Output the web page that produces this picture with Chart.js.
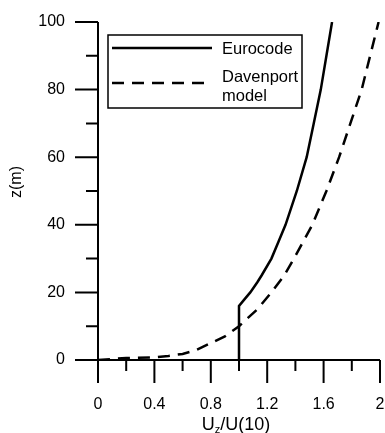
<!DOCTYPE html>
<html>
<head>
<meta charset="utf-8">
<script src="https://cdn.jsdelivr.net/npm/chart.js@4"></script>
<style>
  html, body { margin: 0; padding: 0; background: #fff; }
  #wrap { position: relative; width: 385px; height: 433px; }
</style>
</head>
<body>
<div id="wrap"><canvas id="c" width="385" height="433"></canvas></div>
<script>
// ---- data ----
const eurocodeZ = [0, 16, 18, 20, 23, 25, 30, 35, 40, 50, 60, 70, 80, 90, 100];
const eurocodeU = [1.0, 1.0, 1.04, 1.08, 1.13, 1.16, 1.23, 1.28, 1.33, 1.41, 1.48, 1.53, 1.58, 1.62, 1.66];
const davenportZ = [0, 0.6, 0.8, 1.2, 1.8, 3, 5, 7, 10, 15, 20, 25, 30, 40, 50, 60, 70, 80, 90, 100];
const davenportU = [0, 0.2, 0.4, 0.5, 0.6, 0.7, 0.8, 0.9, 1.0, 1.13, 1.23, 1.32, 1.39, 1.52, 1.62, 1.71, 1.79, 1.87, 1.93, 1.99];
const seriesNames = ['Eurocode', 'Davenport model'];
const xMajorTicks = [0, 0.4, 0.8, 1.2, 1.6, 2];
const xMinorTicks = [0.2, 0.6, 1.0, 1.4, 1.8];
const yMajorTicks = [0, 20, 40, 60, 80, 100];
const yMinorTicks = [10, 30, 50, 70, 90];
const xTitleMain = 'U', xTitleSub = 'z', xTitleRest = '/U(10)';
const yTitle = 'z(m)';

const FONT = "'Liberation Sans', Arial, sans-serif";

const toPts = (xs, ys) => xs.map((x, i) => ({ x: x, y: ys[i] }));

const axesPlugin = {
  id: 'axesDraw',
  afterDraw(chart) {
    const ctx = chart.ctx;
    const xs = chart.scales.x, ys = chart.scales.y;
    const x0 = xs.getPixelForValue(0), y0 = ys.getPixelForValue(0);
    ctx.save();
    ctx.strokeStyle = '#000';
    ctx.lineWidth = 2;
    ctx.lineCap = 'butt';
    // axis lines
    ctx.beginPath();
    ctx.moveTo(x0, ys.getPixelForValue(100));
    ctx.lineTo(x0, y0);
    ctx.moveTo(x0, y0);
    ctx.lineTo(xs.getPixelForValue(2), y0);
    ctx.stroke();
    // y ticks
    ctx.beginPath();
    yMajorTicks.forEach(v => { const p = ys.getPixelForValue(v); ctx.moveTo(x0 - 23, p); ctx.lineTo(x0, p); });
    yMinorTicks.forEach(v => { const p = ys.getPixelForValue(v); ctx.moveTo(x0 - 12, p); ctx.lineTo(x0, p); });
    // x ticks
    xMajorTicks.forEach(v => { const p = xs.getPixelForValue(v); ctx.moveTo(p, y0); ctx.lineTo(p, y0 + 23); });
    xMinorTicks.forEach(v => { const p = xs.getPixelForValue(v); ctx.moveTo(p, y0); ctx.lineTo(p, y0 + 11); });
    ctx.stroke();

    // y title
    ctx.fillStyle = '#000';
    ctx.font = '16px ' + FONT;
    ctx.save();
    ctx.translate(17, 182);
    ctx.rotate(-Math.PI / 2);
    ctx.textAlign = 'center';
    ctx.textBaseline = 'middle';
    ctx.fillText(yTitle, 0, 0);
    ctx.restore();

    // x title with subscript
    const mainFont = '18px ' + FONT, subFont = '11px ' + FONT;
    ctx.font = mainFont;
    const wU = ctx.measureText(xTitleMain).width;
    const wR = ctx.measureText(xTitleRest).width;
    ctx.font = subFont;
    const wS = ctx.measureText(xTitleSub).width;
    const total = wU + wS + wR;
    let tx = 236 - total / 2;
    const base = 430;
    ctx.textAlign = 'left';
    ctx.textBaseline = 'alphabetic';
    ctx.font = mainFont; ctx.fillText(xTitleMain, tx, base); tx += wU;
    ctx.font = subFont; ctx.fillText(xTitleSub, tx, base + 3); tx += wS;
    ctx.font = mainFont; ctx.fillText(xTitleRest, tx, base);

    // legend box
    const lx = 108, ly = 35, lw = 194, lh = 73;
    ctx.fillStyle = '#fff';
    ctx.fillRect(lx, ly, lw, lh);
    ctx.lineWidth = 1.5;
    ctx.strokeStyle = '#000';
    ctx.strokeRect(lx, ly, lw, lh);
    const dsets = chart.data.datasets;
    ctx.lineWidth = 2.5;
    ctx.setLineDash(dsets[0].borderDash || []);
    ctx.beginPath(); ctx.moveTo(112, 48); ctx.lineTo(212, 48); ctx.stroke();
    ctx.setLineDash(dsets[1].borderDash || []);
    ctx.beginPath(); ctx.moveTo(112, 83); ctx.lineTo(212, 83); ctx.stroke();
    ctx.setLineDash([]);
    ctx.fillStyle = '#000';
    ctx.font = '16.5px ' + FONT;
    ctx.textBaseline = 'alphabetic';
    ctx.fillText(dsets[0].label, 222, 54);
    const parts = dsets[1].label.split(' ');
    ctx.fillText(parts[0], 222, 82);
    ctx.fillText(parts[1], 222, 101);
    ctx.restore();
  }
};

const zeroPad = s => { s.paddingLeft = 0; s.paddingRight = 0; s.paddingTop = 0; s.paddingBottom = 0; };

new Chart(document.getElementById('c'), {
  type: 'scatter',
  data: {
    datasets: [
      {
        label: seriesNames[0],
        data: toPts(eurocodeU, eurocodeZ),
        showLine: true,
        borderColor: '#000',
        borderWidth: 2.5,
        pointRadius: 0,
        tension: 0,
        fill: false
      },
      {
        label: seriesNames[1],
        data: toPts(davenportU, davenportZ),
        showLine: true,
        borderColor: '#000',
        borderWidth: 2.5,
        borderDash: [12, 8],
        pointRadius: 0,
        tension: 0,
        fill: false
      }
    ]
  },
  options: {
    responsive: false,
    animation: false,
    devicePixelRatio: 1,
    layout: { padding: { top: 22, right: 5, left: 0, bottom: 0 } },
    plugins: { legend: { display: false }, tooltip: { enabled: false } },
    scales: {
      x: {
        type: 'linear', min: 0, max: 2,
        grid: { display: false, drawTicks: false },
        border: { display: false },
        afterBuildTicks: s => { s.ticks = xMajorTicks.map(v => ({ value: v })); },
        ticks: {
          autoSkip: false, maxRotation: 0, padding: 35,
          color: '#000', font: { family: FONT, size: 16 },
          callback: v => String(+(+v).toFixed(1))
        },
        afterFit: s => { s.height = 73; zeroPad(s); }
      },
      y: {
        type: 'linear', min: 0, max: 100,
        grid: { display: false, drawTicks: false },
        border: { display: false },
        afterBuildTicks: s => { s.ticks = yMajorTicks.map(v => ({ value: v })); },
        ticks: {
          autoSkip: false, padding: 33,
          color: '#000', font: { family: FONT, size: 16 },
          callback: v => String(v)
        },
        afterFit: s => { s.width = 98; zeroPad(s); }
      }
    }
  },
  plugins: [axesPlugin]
});
</script>
</body>
</html>
